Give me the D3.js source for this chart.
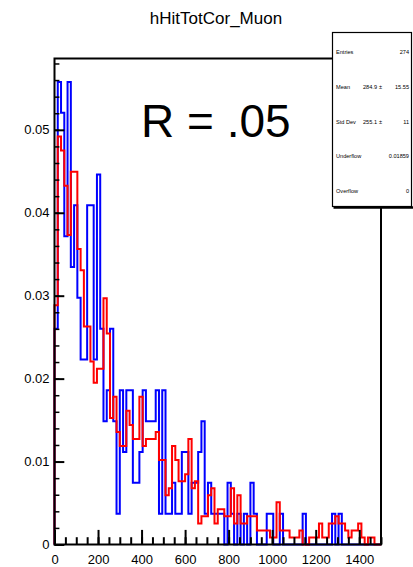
<!DOCTYPE html>
<html>
<head>
<meta charset="utf-8">
<script src="https://cdn.jsdelivr.net/npm/d3@7"></script>
<style>
  body { margin: 0; background: #fff; }
  svg { display: block; }
  text { font-family: "Liberation Sans", Arial, Helvetica, sans-serif; }
</style>
</head>
<body>
<svg width="413" height="567"></svg>
<script>
// histogram binning: 100 bins of 15 between 0 and 1500
const xMin = 0, xMax = 1500, binWidth = 15;

// blue: raw bin counts (normalised by entries minus underflow)
const blueCounts = [
  7, 15, 14, 10, 15, 9, 11, 8, 6, 6,
  11, 11, 6, 12, 7, 4, 5, 7, 4, 1,
  5, 3, 5, 5, 2, 2, 3, 5, 4, 4,
  4, 5, 1, 5, 1, 1, 2, 1, 1, 3,
  3, 1, 2, 2, 3, 4, 1, 2, 1, 1,
  1, 1, 0, 2, 1, 0, 1, 0, 1, 0,
  2, 1, 0, 0, 0, 1, 1, 0, 0, 1,
  0, 0, 0, 0, 0, 0, 1, 0, 0, 0,
  0, 0, 0, 0, 0, 1, 0, 1, 0, 0,
  0, 0, 0, 0, 0, 0, 0, 0, 0, 0
];
const blueNorm = 269;

// red: estimated bin counts of the second sample
const redCounts = [
  34, 58, 56, 51, 44, 53, 53, 42, 39, 31,
  31, 26, 23, 25, 25, 35, 30, 18, 21, 16,
  14, 14, 19, 17, 15, 15, 21, 14, 15, 15,
  15, 16, 12, 12, 7, 8, 14, 12, 9, 9,
  10, 15, 8, 9, 3, 4, 4, 7, 8, 3,
  5, 5, 4, 4, 8, 3, 7, 3, 3, 4,
  4, 4, 2, 2, 2, 2, 1, 1, 6, 2,
  2, 2, 1, 1, 1, 2, 0, 0, 1, 1,
  1, 3, 1, 1, 3, 3, 4, 3, 3, 2,
  1, 2, 2, 3, 1, 0, 1, 1, 0, 0
];
const redNorm = 1179;

const yMax = 0.0586;
const yTicks = [0, 0.01, 0.02, 0.03, 0.04, 0.05];
const xTicks = [0, 200, 400, 600, 800, 1000, 1200, 1400];

const title = "hHitTotCor_Muon";
const note = "R = .05";

// stats box rows
const statLabels = ["Entries", "Mean", "Std Dev", "Underflow", "Overflow"];
const statValues = ["274", "284.9", "255.1", "0.01859", "0"];
const statErrors = ["", "15.55", "11", "", ""];

const svg = d3.select("svg");

const x = d3.scaleLinear().domain([xMin, xMax]).range([54.5, 381]);
const y = d3.scaleLinear().domain([0, yMax]).range([544.5, 58.5]);

// build the outline of a histogram, closed down to zero at both ends
function histPoints(counts, norm) {
  const pts = [[xMin, 0]];
  counts.forEach(function(c, i) { pts.push([xMin + i * binWidth, c / norm]); });
  pts.push([xMax, counts[counts.length - 1] / norm]);
  pts.push([xMax, 0]);
  return pts;
}

const line = d3.line()
  .x(function(d) { return x(d[0]); })
  .y(function(d) { return y(d[1]); })
  .curve(d3.curveStepAfter);

svg.append("path")
  .attr("d", line(histPoints(blueCounts, blueNorm)))
  .attr("fill", "none")
  .attr("stroke", "#0000ff")
  .attr("stroke-width", 2);

svg.append("path")
  .attr("d", line(histPoints(redCounts, redNorm)))
  .attr("fill", "none")
  .attr("stroke", "#ff0000")
  .attr("stroke-width", 2);

// frame
svg.append("rect")
  .attr("x", x(xMin)).attr("y", y(yMax))
  .attr("width", x(xMax) - x(xMin)).attr("height", y(0) - y(yMax))
  .attr("fill", "none").attr("stroke", "#000").attr("stroke-width", 2);

// y axis, ticks pointing inward
const yMinor = d3.range(0, 30).map(function(i) { return +(i * 0.002).toFixed(3); })
  .filter(function(v) { return v <= yMax; });
svg.append("g")
  .attr("transform", "translate(" + x(xMin) + ",0)")
  .call(d3.axisLeft(y).tickValues(yMinor).tickSize(-4.9).tickSizeOuter(0).tickFormat(""))
  .call(function(g) { g.select(".domain").remove(); g.selectAll("line").attr("stroke-width", 1.5); });
svg.append("g")
  .attr("transform", "translate(" + x(xMin) + ",0)")
  .call(d3.axisLeft(y).tickValues(yTicks).tickSize(-9.8).tickSizeOuter(0).tickPadding(5)
    .tickFormat(function(d) { return d === 0 ? "0" : d.toFixed(2); }))
  .call(function(g) {
    g.select(".domain").remove();
    g.selectAll("line").attr("stroke-width", 2);
    g.selectAll("text").attr("font-size", 13).attr("fill", "#000")
      .style("font-family", "'Liberation Sans', Arial, sans-serif");
  });

// x axis, ticks pointing inward
const xMinor = d3.range(0, 31).map(function(i) { return i * 50; });
svg.append("g")
  .attr("transform", "translate(0," + y(0) + ")")
  .call(d3.axisBottom(x).tickValues(xMinor).tickSize(-7.3).tickSizeOuter(0).tickFormat(""))
  .call(function(g) { g.select(".domain").remove(); g.selectAll("line").attr("stroke-width", 2); });
svg.append("g")
  .attr("transform", "translate(0," + y(0) + ")")
  .call(d3.axisBottom(x).tickValues(xTicks).tickSize(-14.6).tickSizeOuter(0).tickPadding(10)
    .tickFormat(d3.format("d")))
  .call(function(g) {
    g.select(".domain").remove();
    g.selectAll("line").attr("stroke-width", 2);
    g.selectAll("text").attr("font-size", 13).attr("fill", "#000")
      .style("font-family", "'Liberation Sans', Arial, sans-serif");
  });

// title and annotation
svg.append("text")
  .attr("x", 216).attr("y", 24)
  .attr("text-anchor", "middle")
  .attr("font-size", 17)
  .text(title);

svg.append("text")
  .attr("x", 141).attr("y", 137)
  .attr("font-size", 46)
  .text(note);

// stats box
const box = { x: 332.5, y: 32.5, w: 79, h: 174 };
svg.append("rect")
  .attr("x", box.x).attr("y", box.y).attr("width", box.w).attr("height", box.h)
  .attr("fill", "#fff").attr("stroke", "#000").attr("stroke-width", 1.2);
svg.append("line")
  .attr("x1", box.x + 1).attr("x2", box.x + box.w + 2)
  .attr("y1", box.y + box.h + 1).attr("y2", box.y + box.h + 1)
  .attr("stroke", "#000").attr("stroke-width", 2.5);

const rowH = box.h / statLabels.length;
const rows = svg.append("g").attr("font-size", 5.6);
statLabels.forEach(function(lab, i) {
  const ty = box.y + rowH * (i + 0.5) + 4;
  rows.append("text").attr("x", box.x + 3.5).attr("y", ty).text(lab);
  if (statErrors[i] === "") {
    rows.append("text").attr("x", 409).attr("y", ty).attr("text-anchor", "end").text(statValues[i]);
  } else {
    rows.append("text").attr("x", 377).attr("y", ty).attr("text-anchor", "end").text(statValues[i]);
    rows.append("text").attr("x", 380.5).attr("y", ty).attr("text-anchor", "middle").text("\u00b1");
    rows.append("text").attr("x", 409).attr("y", ty).attr("text-anchor", "end").text(statErrors[i]);
  }
});
</script>
</body>
</html>
